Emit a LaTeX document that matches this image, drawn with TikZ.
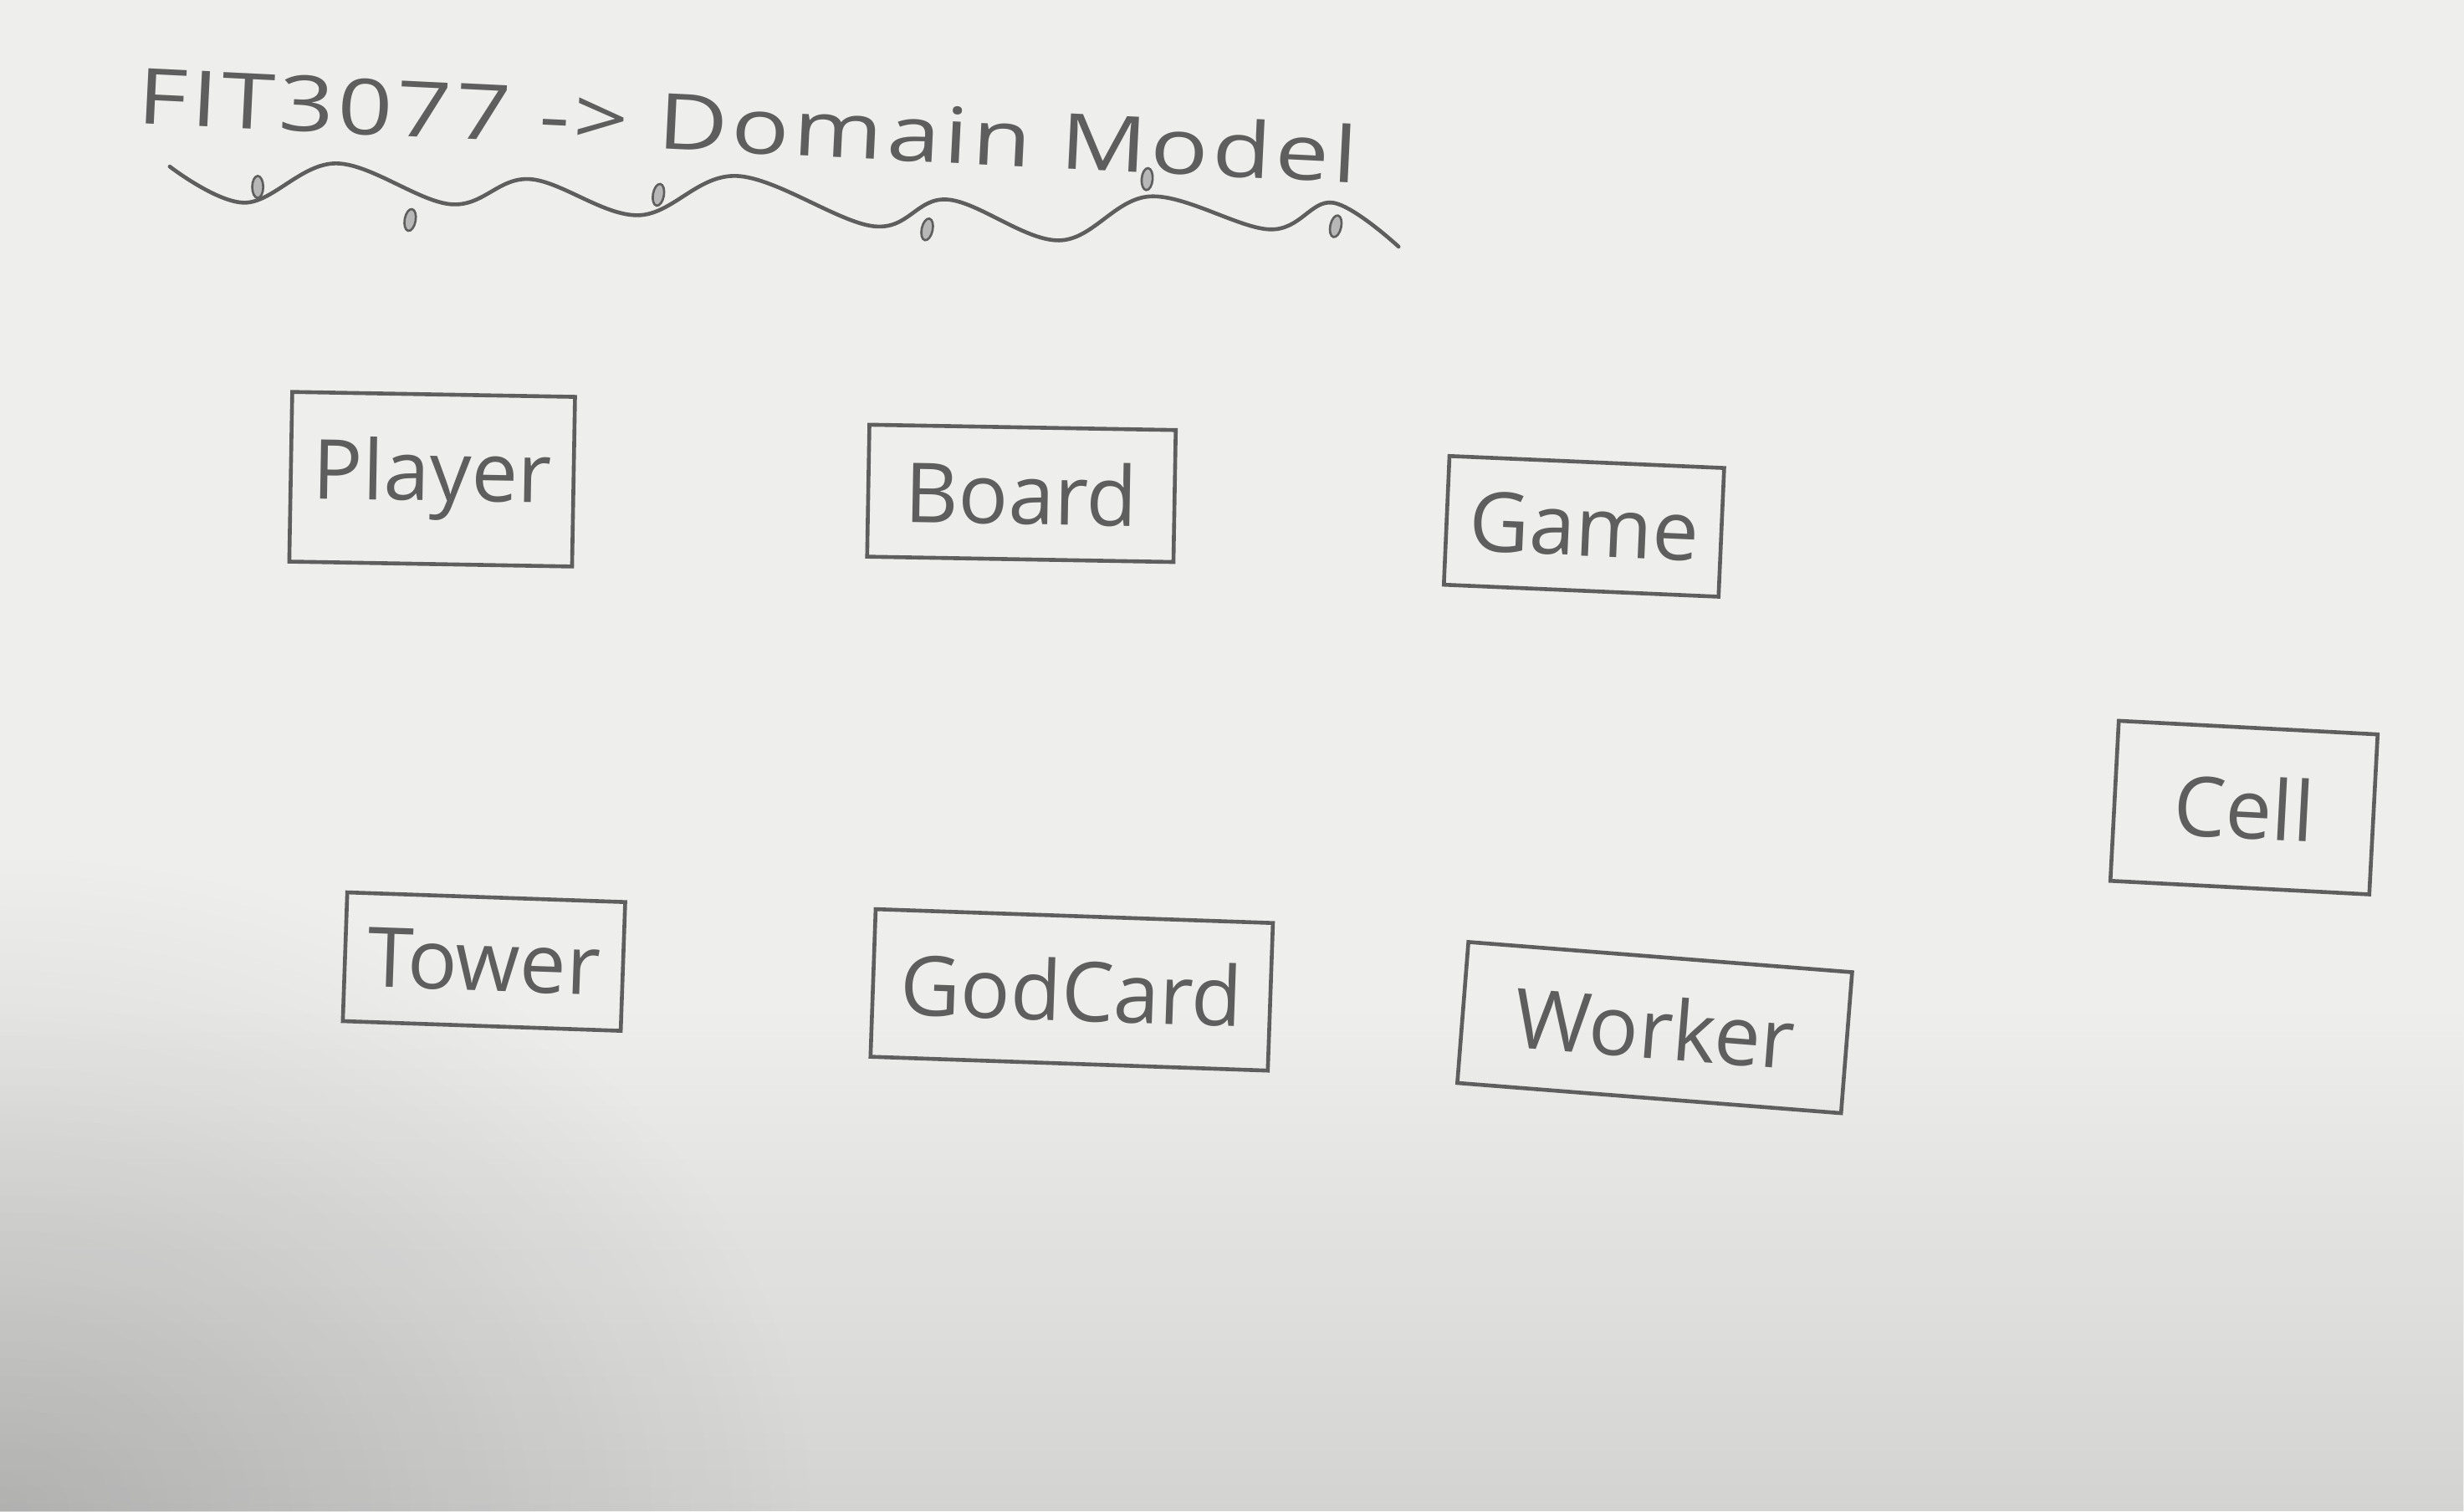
\documentclass[tikz,border=0pt]{standalone}
\usepackage{fontspec}
\setmainfont{Open Sans}
\usetikzlibrary{fadings}
\tikzfading[name=softspot, inner color=transparent!0, outer color=transparent!100]
\definecolor{pencil}{HTML}{5E5E5E}
\definecolor{paper}{HTML}{EEEEEC}
\tikzset{
  entity/.style={draw=pencil, line width=1.4pt, inner sep=0pt, text=pencil,
    font=\fontsize{30}{34}\selectfont},
  wave/.style={draw=pencil, line width=1.4pt, line cap=round},
  drop/.style={draw=pencil, fill=pencil!45, line width=0.8pt},
}
\begin{document}
\begin{tikzpicture}[x=0.02cm, y=-0.02cm]
  \useasboundingbox (0,0) rectangle (1568,962);
  \fill[paper] (0,0) rectangle (1568,962);
  \fill[black, opacity=0.11, path fading=north] (0,640) rectangle (1568,962);
  \fill[black, opacity=0.16, path fading=softspot] (0,962) ellipse (520 and 420);

  % title
  \node[text=pencil, font={\fontsize{28}{32}\selectfont\addfontfeatures{LetterSpace=4}}, rotate=-2.8, xscale=1.245] (title) at (476,79) {FIT3077 -> Domain Model};

  % wavy underline
  \draw[wave] plot[smooth, tension=0.6] coordinates {
    (108,106) (156,129) (214,104) (287,130) (337,114) (406,137)
    (469,112) (556,144) (603,127) (674,153) (732,125) (808,146)
    (848,129) (890,157)};
  \foreach \x/\y/\r in {164/119/0, 261/140/-10, 419/124/-10, 590/146/-12, 730/114/-5, 850/144/-12}
    \fill[drop, rotate around={\r:(\x,\y)}] (\x,\y) ellipse (3.5 and 7);

  % entities
  \node[entity, minimum width=3.6cm, minimum height=2.16cm, rotate=-1] (player) at (275,305) {Player};
  \node[entity, minimum width=3.9cm, minimum height=1.68cm, rotate=-1] (board) at (650,314) {Board};
  \node[entity, minimum width=3.5cm, minimum height=1.64cm, rotate=-2.5] (game) at (1008,335) {Game};
  \node[entity, minimum width=3.3cm, minimum height=2.04cm, rotate=-3] (cell) at (1428,514) {Cell};
  \node[entity, minimum width=3.54cm, minimum height=1.64cm, rotate=-2] (tower) at (308,612) {Tower};
  \node[entity, minimum width=5.06cm, minimum height=1.88cm, rotate=-2] (godcard) at (682,630) {GodCard};
  \node[entity, minimum width=4.9cm, minimum height=1.8cm, rotate=-4.5] (worker) at (1053,654) {Worker};
\end{tikzpicture}
\end{document}
